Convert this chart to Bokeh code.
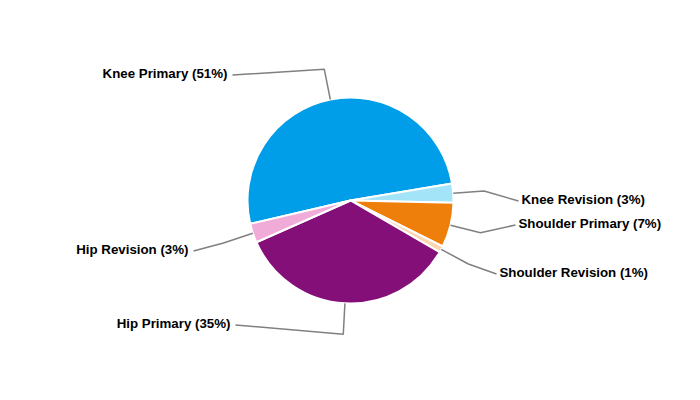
import numpy as np
from bokeh.plotting import figure
from bokeh.models import Range1d, ColumnDataSource
from bokeh.embed import file_html
from bokeh.resources import INLINE
from bokeh.core.properties import value

# ---- data ----
categories = ["Knee Primary", "Knee Revision", "Shoulder Primary",
              "Shoulder Revision", "Hip Primary", "Hip Revision"]
percent = [51, 3, 7, 1, 35, 3]
colors = ["#009ee8", "#a3e4f9", "#ef7f0b", "#fdd5b1", "#850f78", "#f0abd8"]

# ---- layout (screen pixels; y is negated so that data y grows upward) ----
CX, CY, R = 350, -200, 103
START = np.radians(193.1)
ELBOW = 1.3
label_x = [227, 521, 518, 499, 230, 188]
label_y = [73, 199, 223, 272, 323, 249]
label_side = ["right", "left", "left", "left", "right", "right"]

vals = np.array(percent, dtype=float)
sweep = vals / vals.sum() * 2 * np.pi
starts = START - np.concatenate([[0], np.cumsum(sweep)[:-1]])
ends = starts - sweep
mids = (starts + ends) / 2

p = figure(width=684, height=384, x_range=Range1d(0, 684), y_range=Range1d(-384, 0),
           output_backend="svg", toolbar_location=None, min_border=0,
           background_fill_color="white", border_fill_color="white")
p.axis.visible = False
p.grid.visible = False
p.outline_line_color = None

src = ColumnDataSource(dict(start=starts, end=ends, color=colors))
p.wedge(x=CX, y=CY, radius=R, start_angle="start", end_angle="end", direction="clock",
        fill_color="color", line_color="white", line_width=2, source=src)

xs, ys = [], []
for i, a in enumerate(mids):
    ex, ey = CX + R * np.cos(a), CY + R * np.sin(a)
    bx, by = CX + R * ELBOW * np.cos(a), CY + R * ELBOW * np.sin(a)
    if label_side[i] == "left":
        lx = label_x[i] - 3
    else:
        lx = label_x[i] + 5
    ly = -label_y[i] - 1.5
    xs.append([ex, bx, lx])
    ys.append([ey, by, ly])
p.multi_line(xs=xs, ys=ys, line_color="#808080", line_width=1.5)

texts = [f"{c} ({v}%)" for c, v in zip(categories, percent)]
for side, align in (("left", "left"), ("right", "right")):
    idx = [i for i in range(len(texts)) if label_side[i] == side]
    p.text(x=[label_x[i] for i in idx], y=[-label_y[i] for i in idx],
           text=[texts[i] for i in idx], text_align=align, text_baseline="middle",
           text_font=value("Liberation Sans"), text_font_style="bold",
           text_font_size="13.3px", text_color="black")

open("out.html", "w").write(file_html(p, INLINE))
